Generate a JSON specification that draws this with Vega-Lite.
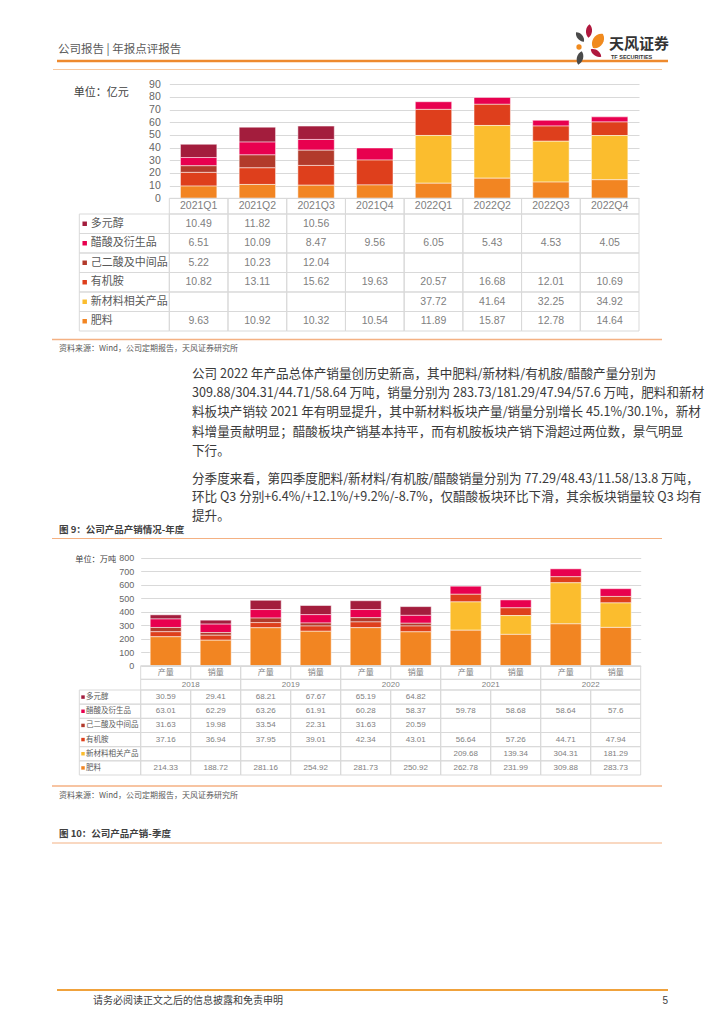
{
"$schema": "https://vega.github.io/schema/vega-lite/v6.json",
"width": 724, "height": 1024,
"autosize": {"type": "none"},
"padding": 0,
"background": "#ffffff",
"config": {"view": {"stroke": null}, "font": "Noto Sans CJK SC", "text": {"font": "Noto Sans CJK SC"}},
"datasets": {
 "one": [{}],
 "q": [
  {"quarter":"2021Q1","多元醇":10.49,"醋酸及衍生品":6.51,"己二酸及中间品":5.22,"有机胺":10.82,"新材料相关产品":null,"肥料":9.63},
  {"quarter":"2021Q2","多元醇":11.82,"醋酸及衍生品":10.09,"己二酸及中间品":10.23,"有机胺":13.11,"新材料相关产品":null,"肥料":10.92},
  {"quarter":"2021Q3","多元醇":10.56,"醋酸及衍生品":8.47,"己二酸及中间品":12.04,"有机胺":15.62,"新材料相关产品":null,"肥料":10.32},
  {"quarter":"2021Q4","多元醇":null,"醋酸及衍生品":9.56,"己二酸及中间品":null,"有机胺":19.63,"新材料相关产品":null,"肥料":10.54},
  {"quarter":"2022Q1","多元醇":null,"醋酸及衍生品":6.05,"己二酸及中间品":null,"有机胺":20.57,"新材料相关产品":37.72,"肥料":11.89},
  {"quarter":"2022Q2","多元醇":null,"醋酸及衍生品":5.43,"己二酸及中间品":null,"有机胺":16.68,"新材料相关产品":41.64,"肥料":15.87},
  {"quarter":"2022Q3","多元醇":null,"醋酸及衍生品":4.53,"己二酸及中间品":null,"有机胺":12.01,"新材料相关产品":32.25,"肥料":12.78},
  {"quarter":"2022Q4","多元醇":null,"醋酸及衍生品":4.05,"己二酸及中间品":null,"有机胺":10.69,"新材料相关产品":34.92,"肥料":14.64}
 ],
 "a": [
  {"col":"2018产量","year":"2018","kind":"产量","多元醇":30.59,"醋酸及衍生品":63.01,"己二酸及中间品":31.63,"有机胺":37.16,"新材料相关产品":null,"肥料":214.33},
  {"col":"2018销量","year":"2018","kind":"销量","多元醇":29.41,"醋酸及衍生品":62.29,"己二酸及中间品":19.98,"有机胺":36.94,"新材料相关产品":null,"肥料":188.72},
  {"col":"2019产量","year":"2019","kind":"产量","多元醇":68.21,"醋酸及衍生品":63.26,"己二酸及中间品":33.54,"有机胺":37.95,"新材料相关产品":null,"肥料":281.16},
  {"col":"2019销量","year":"2019","kind":"销量","多元醇":67.67,"醋酸及衍生品":61.91,"己二酸及中间品":22.31,"有机胺":39.01,"新材料相关产品":null,"肥料":254.92},
  {"col":"2020产量","year":"2020","kind":"产量","多元醇":65.19,"醋酸及衍生品":60.28,"己二酸及中间品":31.63,"有机胺":42.34,"新材料相关产品":null,"肥料":281.73},
  {"col":"2020销量","year":"2020","kind":"销量","多元醇":64.82,"醋酸及衍生品":58.37,"己二酸及中间品":20.59,"有机胺":43.01,"新材料相关产品":null,"肥料":250.92},
  {"col":"2021产量","year":"2021","kind":"产量","多元醇":null,"醋酸及衍生品":59.78,"己二酸及中间品":null,"有机胺":56.64,"新材料相关产品":209.68,"肥料":262.78},
  {"col":"2021销量","year":"2021","kind":"销量","多元醇":null,"醋酸及衍生品":58.68,"己二酸及中间品":null,"有机胺":57.26,"新材料相关产品":139.34,"肥料":231.99},
  {"col":"2022产量","year":"2022","kind":"产量","多元醇":null,"醋酸及衍生品":58.64,"己二酸及中间品":null,"有机胺":44.71,"新材料相关产品":304.31,"肥料":309.88},
  {"col":"2022销量","year":"2022","kind":"销量","多元醇":null,"醋酸及衍生品":57.6,"己二酸及中间品":null,"有机胺":47.94,"新材料相关产品":181.29,"肥料":283.73}
 ],
 "series": [
  {"product":"肥料","k":1},{"product":"新材料相关产品","k":2},{"product":"有机胺","k":3},
  {"product":"己二酸及中间品","k":4},{"product":"醋酸及衍生品","k":5},{"product":"多元醇","k":6}
 ]
},
"resolve": {
 "scale": {"x":"independent","y":"independent","color":"independent"},
 "axis": {"x":"independent","y":"independent"},
 "legend": {"color":"independent"}
},
"layer": [
 {"data": {"name":"one"}, "mark": {"type":"text","text":"公司报告 | 年报点评报告","fontSize":11.5,"color":"#595959","align":"left","baseline":"middle"},
  "encoding": {"x":{"value":58},"y":{"value":50}}},
 {"data": {"name":"one"}, "mark": {"type":"rule","color":"#EE8A2E","strokeWidth":2.5},
  "encoding": {"x":{"value":57},"x2":{"value":668},"y":{"value":61}}},
 {"data": {"name":"one"}, "mark": {"type":"rule","color":"#F8C9A0","strokeWidth":1.2},
  "encoding": {"x":{"value":53},"x2":{"value":662},"y":{"value":69.5}}},

 {"data": {"name":"one"}, "mark": {"type":"point","filled":true,"opacity":1,"color":"#4a4a4a","shape":"M0,-1C0.6,-0.55 0.6,0.55 0,1C-0.6,0.55 -0.6,-0.55 0,-1Z","size":150,"angle":-40},
  "encoding": {"x":{"value":580},"y":{"value":37}}},
 {"data": {"name":"one"}, "mark": {"type":"point","filled":true,"opacity":1,"color":"#B0183E","shape":"M0,-1C0.6,-0.55 0.6,0.55 0,1C-0.6,0.55 -0.6,-0.55 0,-1Z","size":180,"angle":5},
  "encoding": {"x":{"value":589},"y":{"value":31}}},
 {"data": {"name":"one"}, "mark": {"type":"point","filled":true,"opacity":1,"color":"#F08A1E","shape":"M0,-1C0.8,-0.6 0.8,0.6 0,1C-0.8,0.6 -0.8,-0.6 0,-1Z","size":300,"angle":35},
  "encoding": {"x":{"value":598},"y":{"value":41}}},
 {"data": {"name":"one"}, "mark": {"type":"point","filled":true,"opacity":1,"color":"#F08A1E","shape":"circle","size":28},
  "encoding": {"x":{"value":579},"y":{"value":47}}},
 {"data": {"name":"one"}, "mark": {"type":"point","filled":true,"opacity":1,"color":"#B0183E","shape":"M0,-1C0.6,-0.55 0.6,0.55 0,1C-0.6,0.55 -0.6,-0.55 0,-1Z","size":160,"angle":-55},
  "encoding": {"x":{"value":596},"y":{"value":53}}},
 {"data": {"name":"one"}, "mark": {"type":"point","filled":true,"opacity":1,"color":"#4a4a4a","shape":"M0,-1C0.6,-0.55 0.6,0.55 0,1C-0.6,0.55 -0.6,-0.55 0,-1Z","size":190,"angle":15},
  "encoding": {"x":{"value":580},"y":{"value":58}}},
 {"data": {"name":"one"}, "mark": {"type":"text","text":"天风证券","fontSize":15,"fontWeight":"bold","color":"#333333","align":"left","baseline":"middle"},
  "encoding": {"x":{"value":609},"y":{"value":44}}},
 {"data": {"name":"one"}, "mark": {"type":"text","text":"TF SECURITIES","fontSize":5.5,"fontWeight":"bold","font":"Liberation Sans","color":"#333333","align":"left","baseline":"middle"},
  "encoding": {"x":{"value":611},"y":{"value":56.5}}},

 {"data": {"name":"q"},
  "transform": [
   {"fold": ["多元醇","醋酸及衍生品","己二酸及中间品","有机胺","新材料相关产品","肥料"], "as": ["product","value"]},
   {"filter": "isValid(datum.value)"},
   {"lookup": "product", "from": {"data": {"name":"series"}, "key":"product", "fields":["k"]}}
  ],
  "mark": {"type":"bar","stroke":"#ffffff","strokeWidth":0.5},
  "encoding": {
   "x": {"field":"quarter","type":"nominal","scale":{"domain":["2021Q1","2021Q2","2021Q3","2021Q4","2022Q1","2022Q2","2022Q3","2022Q4"],"range":[169.3,639],"paddingInner":0.38,"paddingOuter":0.19},"axis":null},
   "y": {"field":"value","type":"quantitative","stack":"zero",
     "scale":{"domain":[0,90],"range":[198.3,84.3],"nice":false,"zero":true},
     "axis":{"orient":"left","offset":-169.3,"values":[0,10,20,30,40,50,60,70,80,90],"grid":true,"gridColor":"#d9d9d9","gridWidth":1,"domain":false,"ticks":false,"labelPadding":9,"labelFontSize":10.5,"labelColor":"#666666","labelFont":"Liberation Sans","labelFlush":false,
       "title":"单位：亿元","titleAngle":0,"titleAlign":"left","titleBaseline":"middle","titleX":-96,"titleY":92,"titleFontSize":11,"titleFontWeight":"normal","titleColor":"#404040","titleFont":"Noto Sans CJK SC"}},
   "color": {"field":"product","type":"nominal","scale":{"domain":["多元醇","醋酸及衍生品","己二酸及中间品","有机胺","新材料相关产品","肥料"],"range":["#A31D3D","#E8004F","#B23A2B","#DE3F1C","#FBBD2E","#F28522"]},"legend":null},
   "order": {"field":"k","type":"quantitative"}
  }},

 {"data": {"name":"q"},
  "mark": {"type":"rect","fill":"transparent","stroke":"#d9d9d9","strokeWidth":1},
  "encoding": {
   "x": {"field":"quarter","type":"nominal","scale":{"domain":["2021Q1","2021Q2","2021Q3","2021Q4","2022Q1","2022Q2","2022Q3","2022Q4"],"range":[169.3,639],"paddingInner":0,"paddingOuter":0},"axis":null},
   "y": {"datum":"hdr","type":"nominal","scale":{"domain":["hdr"],"range":[198.3,214],"paddingInner":0,"paddingOuter":0},"axis":null}
  }},
 {"data": {"name":"q"},
  "mark": {"type":"text","fontSize":10.5,"font":"Liberation Sans","color":"#808080","baseline":"middle"},
  "encoding": {
   "x": {"field":"quarter","type":"nominal","scale":{"domain":["2021Q1","2021Q2","2021Q3","2021Q4","2022Q1","2022Q2","2022Q3","2022Q4"],"range":[169.3,639],"paddingInner":0,"paddingOuter":0},"axis":null},
   "y": {"datum":"hdr","type":"nominal","scale":{"domain":["hdr"],"range":[198.3,214],"paddingInner":0,"paddingOuter":0},"axis":null},
   "text": {"field":"quarter","type":"nominal"}
  }},
 {"data": {"name":"q"},
  "transform": [{"fold": ["多元醇","醋酸及衍生品","己二酸及中间品","有机胺","新材料相关产品","肥料"], "as": ["product","value"]}],
  "mark": {"type":"rect","fill":"transparent","stroke":"#d9d9d9","strokeWidth":1},
  "encoding": {
   "x": {"field":"quarter","type":"nominal","scale":{"domain":["2021Q1","2021Q2","2021Q3","2021Q4","2022Q1","2022Q2","2022Q3","2022Q4"],"range":[169.3,639],"paddingInner":0,"paddingOuter":0},"axis":null},
   "y": {"field":"product","type":"nominal","scale":{"domain":["多元醇","醋酸及衍生品","己二酸及中间品","有机胺","新材料相关产品","肥料"],"range":[214,331],"paddingInner":0,"paddingOuter":0},"axis":null}
  }},
 {"data": {"name":"q"},
  "transform": [{"fold": ["多元醇","醋酸及衍生品","己二酸及中间品","有机胺","新材料相关产品","肥料"], "as": ["product","value"]},{"filter": "isValid(datum.value)"}],
  "mark": {"type":"text","fontSize":10.5,"font":"Liberation Sans","color":"#808080","baseline":"middle"},
  "encoding": {
   "x": {"field":"quarter","type":"nominal","scale":{"domain":["2021Q1","2021Q2","2021Q3","2021Q4","2022Q1","2022Q2","2022Q3","2022Q4"],"range":[169.3,639],"paddingInner":0,"paddingOuter":0},"axis":null},
   "y": {"field":"product","type":"nominal","scale":{"domain":["多元醇","醋酸及衍生品","己二酸及中间品","有机胺","新材料相关产品","肥料"],"range":[214,331],"paddingInner":0,"paddingOuter":0},"axis":null},
   "text": {"field":"value","type":"nominal"}
  }},
 {"data": {"name":"series"},
  "mark": {"type":"rect","fill":"transparent","stroke":"#d9d9d9","strokeWidth":1},
  "encoding": {
   "x": {"datum":"label","type":"nominal","scale":{"domain":["label"],"range":[79.3,169.3],"paddingInner":0,"paddingOuter":0},"axis":null},
   "y": {"field":"product","type":"nominal","scale":{"domain":["多元醇","醋酸及衍生品","己二酸及中间品","有机胺","新材料相关产品","肥料"],"range":[214,331],"paddingInner":0,"paddingOuter":0},"axis":null}
  }},
 {"data": {"name":"series"},
  "mark": {"type":"point","shape":"square","filled":true,"opacity":1,"size":20},
  "encoding": {
   "x": {"datum":"label","type":"nominal","scale":{"domain":["label"],"range":[79.3,169.3],"paddingInner":0,"paddingOuter":0},"axis":null},
   "xOffset": {"value":-39.6},
   "y": {"field":"product","type":"nominal","scale":{"domain":["多元醇","醋酸及衍生品","己二酸及中间品","有机胺","新材料相关产品","肥料"],"range":[214,331],"paddingInner":0,"paddingOuter":0},"axis":null},
   "color": {"field":"product","type":"nominal","scale":{"domain":["多元醇","醋酸及衍生品","己二酸及中间品","有机胺","新材料相关产品","肥料"],"range":["#A31D3D","#E8004F","#B23A2B","#DE3F1C","#FBBD2E","#F28522"]},"legend":null}
  }},
 {"data": {"name":"series"},
  "mark": {"type":"text","fontSize":11,"color":"#595959","align":"left","baseline":"middle","dx":-33.6},
  "encoding": {
   "x": {"datum":"label","type":"nominal","scale":{"domain":["label"],"range":[79.3,169.3],"paddingInner":0,"paddingOuter":0},"axis":null},
   "y": {"field":"product","type":"nominal","scale":{"domain":["多元醇","醋酸及衍生品","己二酸及中间品","有机胺","新材料相关产品","肥料"],"range":[214,331],"paddingInner":0,"paddingOuter":0},"axis":null},
   "text": {"field":"product","type":"nominal"}
  }},

 {"data": {"name":"one"}, "mark": {"type":"rule","color":"#F4B183","strokeWidth":1.5},
  "encoding": {"x":{"value":52},"x2":{"value":662},"y":{"value":339.5}}},
 {"data": {"name":"one"}, "mark": {"type":"text","text":"资料来源：Wind，公司定期报告，天风证券研究所","fontSize":8,"color":"#595959","align":"left","baseline":"middle"},
  "encoding": {"x":{"value":59},"y":{"value":349}}},

 {"data": {"name":"one"}, "mark": {"type":"text","text":["公司 2022 年产品总体产销量创历史新高，其中肥料/新材料/有机胺/醋酸产量分别为","309.88/304.31/44.71/58.64 万吨，销量分别为 283.73/181.29/47.94/57.6 万吨，肥料和新材","料板块产销较 2021 年有明显提升，其中新材料板块产量/销量分别增长 45.1%/30.1%，新材","料增量贡献明显；醋酸板块产销基本持平，而有机胺板块产销下滑超过两位数，景气明显","下行。"],"fontSize":12.6,"lineHeight":19.3,"color":"#3a3a3a","align":"left","baseline":"top"},
  "encoding": {"x":{"value":192},"y":{"value":367.8}}},
 {"data": {"name":"one"}, "mark": {"type":"text","text":["分季度来看，第四季度肥料/新材料/有机胺/醋酸销量分别为 77.29/48.43/11.58/13.8 万吨，","环比 Q3 分别+6.4%/+12.1%/+9.2%/-8.7%，仅醋酸板块环比下滑，其余板块销量较 Q3 均有","提升。"],"fontSize":12.6,"lineHeight":18.5,"color":"#3a3a3a","align":"left","baseline":"top"},
  "encoding": {"x":{"value":192},"y":{"value":472.8}}},

 {"data": {"name":"one"}, "mark": {"type":"text","text":"图 9：公司产品产销情况-年度","fontSize":9.5,"fontWeight":"bold","color":"#404040","align":"left","baseline":"middle"},
  "encoding": {"x":{"value":59},"y":{"value":530}}},
 {"data": {"name":"one"}, "mark": {"type":"rule","color":"#F4B183","strokeWidth":1.2},
  "encoding": {"x":{"value":52},"x2":{"value":662},"y":{"value":538.5}}},

 {"data": {"name":"a"},
  "transform": [
   {"fold": ["多元醇","醋酸及衍生品","己二酸及中间品","有机胺","新材料相关产品","肥料"], "as": ["product","value"]},
   {"filter": "isValid(datum.value)"},
   {"lookup": "product", "from": {"data": {"name":"series"}, "key":"product", "fields":["k"]}}
  ],
  "mark": {"type":"bar","stroke":"#ffffff","strokeWidth":0.5},
  "encoding": {
   "x": {"field":"col","type":"nominal","scale":{"domain":["2018产量","2018销量","2019产量","2019销量","2020产量","2020销量","2021产量","2021销量","2022产量","2022销量"],"range":[140.7,640.7],"paddingInner":0.38,"paddingOuter":0.19},"axis":null},
   "y": {"field":"value","type":"quantitative","stack":"zero",
     "scale":{"domain":[0,800],"range":[665.7,557.7],"nice":false,"zero":true},
     "axis":{"orient":"left","offset":-140.7,"values":[0,100,200,300,400,500,600,700,800],"grid":true,"gridColor":"#d9d9d9","gridWidth":1,"domain":false,"ticks":false,"labelPadding":7,"labelFontSize":9,"labelColor":"#666666","labelFont":"Liberation Sans","labelFlush":false,
       "title":"单位：万吨","titleAngle":0,"titleAlign":"left","titleBaseline":"middle","titleX":-66,"titleY":559,"titleFontSize":8.2,"titleFontWeight":"normal","titleColor":"#404040","titleFont":"Noto Sans CJK SC"}},
   "color": {"field":"product","type":"nominal","scale":{"domain":["多元醇","醋酸及衍生品","己二酸及中间品","有机胺","新材料相关产品","肥料"],"range":["#A31D3D","#E8004F","#B23A2B","#DE3F1C","#FBBD2E","#F28522"]},"legend":null},
   "order": {"field":"k","type":"quantitative"}
  }},

 {"data": {"name":"a"},
  "mark": {"type":"rect","fill":"transparent","stroke":"#d9d9d9","strokeWidth":1},
  "encoding": {
   "x": {"field":"col","type":"nominal","scale":{"domain":["2018产量","2018销量","2019产量","2019销量","2020产量","2020销量","2021产量","2021销量","2022产量","2022销量"],"range":[140.7,640.7],"paddingInner":0,"paddingOuter":0},"axis":null},
   "y": {"datum":"h1","type":"nominal","scale":{"domain":["h1"],"range":[665.7,679.3],"paddingInner":0,"paddingOuter":0},"axis":null}
  }},
 {"data": {"name":"a"},
  "mark": {"type":"text","fontSize":8,"color":"#808080","baseline":"middle"},
  "encoding": {
   "x": {"field":"col","type":"nominal","scale":{"domain":["2018产量","2018销量","2019产量","2019销量","2020产量","2020销量","2021产量","2021销量","2022产量","2022销量"],"range":[140.7,640.7],"paddingInner":0,"paddingOuter":0},"axis":null},
   "y": {"datum":"h1","type":"nominal","scale":{"domain":["h1"],"range":[665.7,679.3],"paddingInner":0,"paddingOuter":0},"axis":null},
   "text": {"field":"kind","type":"nominal"}
  }},
 {"data": {"name":"a"},
  "transform": [{"filter": "datum.kind === '产量'"}],
  "mark": {"type":"rect","fill":"transparent","stroke":"#d9d9d9","strokeWidth":1},
  "encoding": {
   "x": {"field":"year","type":"nominal","scale":{"domain":["2018","2019","2020","2021","2022"],"range":[140.7,640.7],"paddingInner":0,"paddingOuter":0},"axis":null},
   "y": {"datum":"h2","type":"nominal","scale":{"domain":["h2"],"range":[679.3,690],"paddingInner":0,"paddingOuter":0},"axis":null}
  }},
 {"data": {"name":"a"},
  "transform": [{"filter": "datum.kind === '产量'"}],
  "mark": {"type":"text","fontSize":8,"font":"Liberation Sans","color":"#808080","baseline":"middle"},
  "encoding": {
   "x": {"field":"year","type":"nominal","scale":{"domain":["2018","2019","2020","2021","2022"],"range":[140.7,640.7],"paddingInner":0,"paddingOuter":0},"axis":null},
   "y": {"datum":"h2","type":"nominal","scale":{"domain":["h2"],"range":[679.3,690],"paddingInner":0,"paddingOuter":0},"axis":null},
   "text": {"field":"year","type":"nominal"}
  }},
 {"data": {"name":"a"},
  "transform": [{"fold": ["多元醇","醋酸及衍生品","己二酸及中间品","有机胺","新材料相关产品","肥料"], "as": ["product","value"]}],
  "mark": {"type":"rect","fill":"transparent","stroke":"#d9d9d9","strokeWidth":1},
  "encoding": {
   "x": {"field":"col","type":"nominal","scale":{"domain":["2018产量","2018销量","2019产量","2019销量","2020产量","2020销量","2021产量","2021销量","2022产量","2022销量"],"range":[140.7,640.7],"paddingInner":0,"paddingOuter":0},"axis":null},
   "y": {"field":"product","type":"nominal","scale":{"domain":["多元醇","醋酸及衍生品","己二酸及中间品","有机胺","新材料相关产品","肥料"],"range":[690,775],"paddingInner":0,"paddingOuter":0},"axis":null}
  }},
 {"data": {"name":"a"},
  "transform": [{"fold": ["多元醇","醋酸及衍生品","己二酸及中间品","有机胺","新材料相关产品","肥料"], "as": ["product","value"]},{"filter": "isValid(datum.value)"}],
  "mark": {"type":"text","fontSize":8,"font":"Liberation Sans","color":"#808080","baseline":"middle"},
  "encoding": {
   "x": {"field":"col","type":"nominal","scale":{"domain":["2018产量","2018销量","2019产量","2019销量","2020产量","2020销量","2021产量","2021销量","2022产量","2022销量"],"range":[140.7,640.7],"paddingInner":0,"paddingOuter":0},"axis":null},
   "y": {"field":"product","type":"nominal","scale":{"domain":["多元醇","醋酸及衍生品","己二酸及中间品","有机胺","新材料相关产品","肥料"],"range":[690,775],"paddingInner":0,"paddingOuter":0},"axis":null},
   "text": {"field":"value","type":"nominal"}
  }},
 {"data": {"name":"series"},
  "mark": {"type":"rect","fill":"transparent","stroke":"#d9d9d9","strokeWidth":1},
  "encoding": {
   "x": {"datum":"label","type":"nominal","scale":{"domain":["label"],"range":[79.3,140.7],"paddingInner":0,"paddingOuter":0},"axis":null},
   "y": {"field":"product","type":"nominal","scale":{"domain":["多元醇","醋酸及衍生品","己二酸及中间品","有机胺","新材料相关产品","肥料"],"range":[690,775],"paddingInner":0,"paddingOuter":0},"axis":null}
  }},
 {"data": {"name":"series"},
  "mark": {"type":"point","shape":"square","filled":true,"opacity":1,"size":12},
  "encoding": {
   "x": {"datum":"label","type":"nominal","scale":{"domain":["label"],"range":[79.3,140.7],"paddingInner":0,"paddingOuter":0},"axis":null},
   "xOffset": {"value":-27},
   "y": {"field":"product","type":"nominal","scale":{"domain":["多元醇","醋酸及衍生品","己二酸及中间品","有机胺","新材料相关产品","肥料"],"range":[690,775],"paddingInner":0,"paddingOuter":0},"axis":null},
   "color": {"field":"product","type":"nominal","scale":{"domain":["多元醇","醋酸及衍生品","己二酸及中间品","有机胺","新材料相关产品","肥料"],"range":["#A31D3D","#E8004F","#B23A2B","#DE3F1C","#FBBD2E","#F28522"]},"legend":null}
  }},
 {"data": {"name":"series"},
  "mark": {"type":"text","fontSize":7.5,"color":"#595959","align":"left","baseline":"middle","dx":-24},
  "encoding": {
   "x": {"datum":"label","type":"nominal","scale":{"domain":["label"],"range":[79.3,140.7],"paddingInner":0,"paddingOuter":0},"axis":null},
   "y": {"field":"product","type":"nominal","scale":{"domain":["多元醇","醋酸及衍生品","己二酸及中间品","有机胺","新材料相关产品","肥料"],"range":[690,775],"paddingInner":0,"paddingOuter":0},"axis":null},
   "text": {"field":"product","type":"nominal"}
  }},

 {"data": {"name":"one"}, "mark": {"type":"rule","color":"#F4B183","strokeWidth":1.5},
  "encoding": {"x":{"value":52},"x2":{"value":662},"y":{"value":786}}},
 {"data": {"name":"one"}, "mark": {"type":"text","text":"资料来源：Wind，公司定期报告，天风证券研究所","fontSize":8,"color":"#595959","align":"left","baseline":"middle"},
  "encoding": {"x":{"value":59},"y":{"value":796}}},

 {"data": {"name":"one"}, "mark": {"type":"text","text":"图 10：公司产品产销-季度","fontSize":9.5,"fontWeight":"bold","color":"#404040","align":"left","baseline":"middle"},
  "encoding": {"x":{"value":59},"y":{"value":834}}},
 {"data": {"name":"one"}, "mark": {"type":"rule","color":"#F4B183","strokeWidth":1.2},
  "encoding": {"x":{"value":52},"x2":{"value":662},"y":{"value":843}}},

 {"data": {"name":"one"}, "mark": {"type":"rule","color":"#F0A23C","strokeWidth":2},
  "encoding": {"x":{"value":57},"x2":{"value":668},"y":{"value":990}}},
 {"data": {"name":"one"}, "mark": {"type":"text","text":"请务必阅读正文之后的信息披露和免责申明","fontSize":10,"color":"#404040","align":"left","baseline":"middle"},
  "encoding": {"x":{"value":93},"y":{"value":1001}}},
 {"data": {"name":"one"}, "mark": {"type":"text","text":"5","fontSize":10,"font":"Liberation Sans","color":"#404040","align":"right","baseline":"middle"},
  "encoding": {"x":{"value":668},"y":{"value":1001}}}
]
}
